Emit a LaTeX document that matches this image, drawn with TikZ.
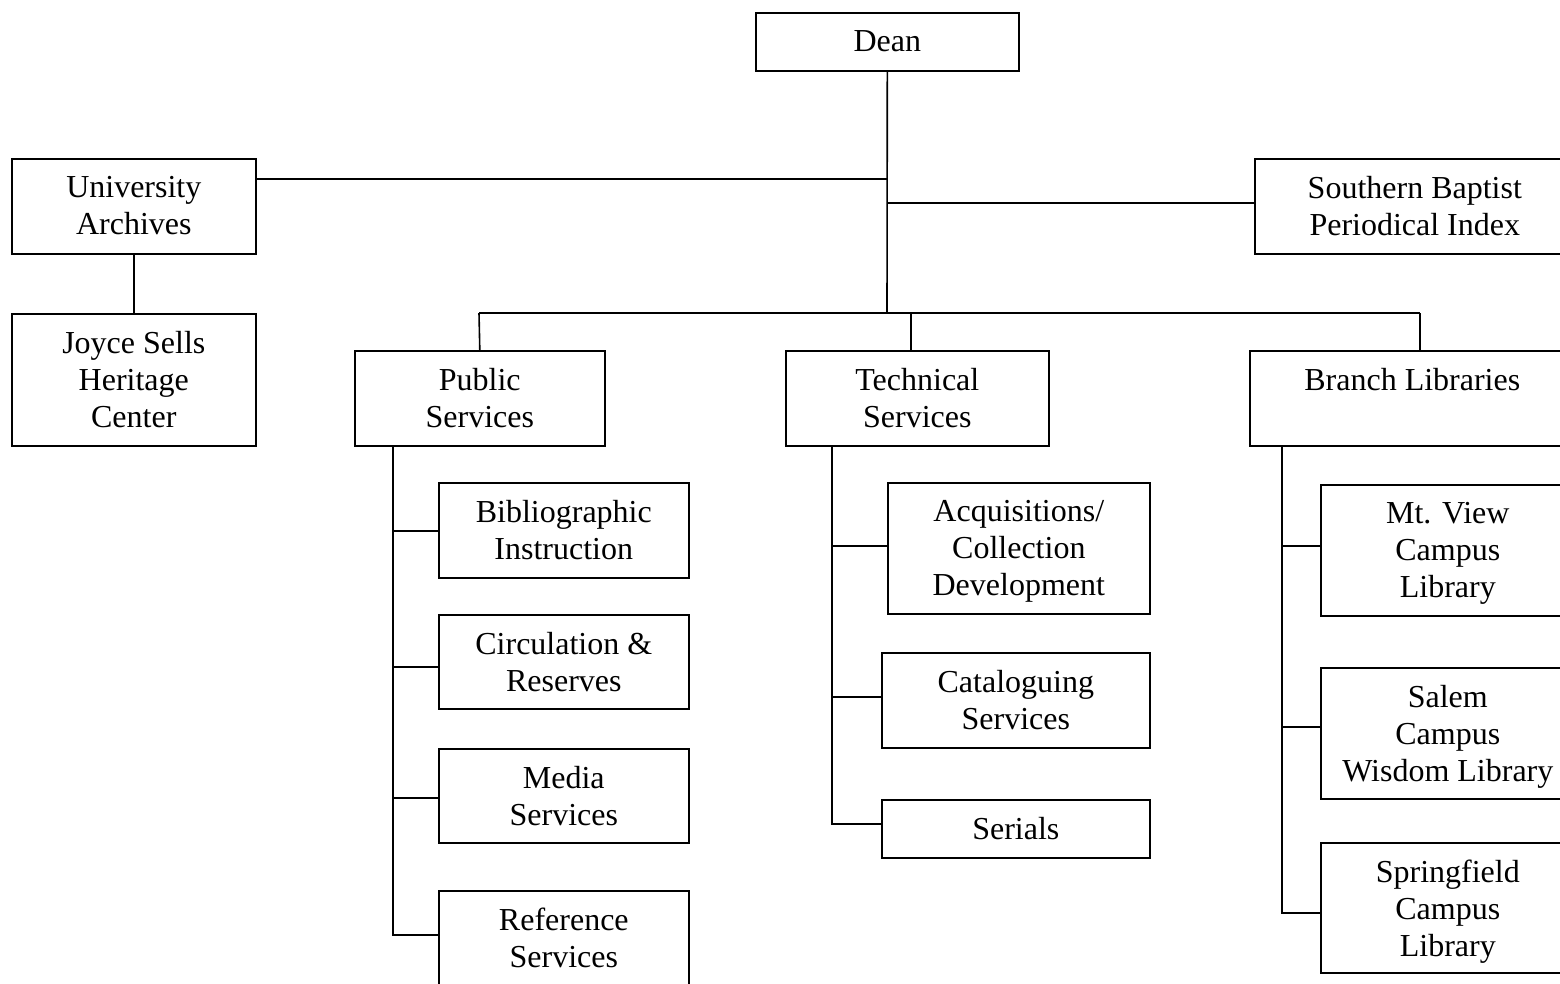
\documentclass[tikz,border=0pt]{standalone}
\usepackage{fontspec}
\setmainfont{Liberation Serif}
\usetikzlibrary{calc}
\tikzset{
  obox/.style={draw=black, line width=1.6pt, rectangle, inner sep=0pt, anchor=north west},
  otext/.style={inner sep=0pt, align=center, anchor=north, font=\fontsize{32}{37}\selectfont},
  conn/.style={draw=black, line width=1.6pt}
}
\newcommand\obx[6]{%
  \node[obox, minimum width=#4pt, minimum height=#5pt] (#1) at (#2,#3) {};
  \node[otext] (#1t) at ($(#1.north)+(0,18)$) {#6};
}
\begin{document}
\begin{tikzpicture}[x=1pt,y=-1pt]
\useasboundingbox (0,0) rectangle (1560,983);
\fill[white] (0,0) rectangle (1560,983);
\obx{dean}{755}{12}{263}{58}{Dean}
\obx{univ}{11}{158}{244}{95}{University\\Archives}
\obx{sbpi}{1254}{158}{320}{95}{Southern Baptist\\Periodical Index}
\obx{joyce}{11}{313}{244}{132}{Joyce Sells\\Heritage\\Center}
\obx{public}{354}{350}{250}{95}{Public\\Services}
\obx{tech}{785}{350}{263}{95}{Technical\\Services}
\obx{branch}{1249}{350}{325}{95}{Branch Libraries}
\obx{bib}{438}{482}{250}{95}{Bibliographic\\Instruction}
\obx{circ}{438}{614}{250}{94}{Circulation \&\\Reserves}
\obx{media}{438}{748}{250}{94}{Media\\Services}
\obx{ref}{438}{890}{250}{94}{Reference\\Services}
\obx{acq}{887}{482}{262}{131}{Acquisitions/\\Collection\\Development}
\obx{cat}{881}{652}{268}{95}{Cataloguing\\Services}
\obx{ser}{881}{799}{268}{58}{Serials}
\obx{mtv}{1320}{484}{254}{131}{Mt. View\\Campus\\Library}
\obx{salem}{1320}{667}{254}{131}{Salem\\Campus\\Wisdom Library}
\obx{spring}{1320}{842}{254}{130}{Springfield\\Campus\\Library}
% top connectors
\coordinate (bus) at (887,313);
\coordinate (jU) at (887,179);
\coordinate (jS) at (887,203);
\coordinate (busL) at (479,313);
\coordinate (busR) at (1420,313);
\coordinate (tdrop) at (911,313);
\draw[conn] (dean.south) -- (bus);
\draw[conn] (univ.east |- jU) -- (jU);
\draw[conn] (jS) -- (sbpi.west |- jS);
\draw[conn] (univ.south) -- (joyce.north);
\draw[conn] (busL) -- (busR);
\draw[conn] (busL) -- (public.north);
\draw[conn] (tdrop) -- (tdrop |- tech.north);
\draw[conn] (busR) -- (busR |- branch.north);
% public services column
\coordinate (pv) at (393,445);
\draw[conn] (pv) -- (393,935) -- (ref.west |- 0,935);
\draw[conn] (393,531) -- (bib.west |- 0,531);
\draw[conn] (393,667) -- (circ.west |- 0,667);
\draw[conn] (393,798) -- (media.west |- 0,798);
% technical services column
\coordinate (tv) at (832,445);
\draw[conn] (tv) -- (832,824) -- (ser.west |- 0,824);
\draw[conn] (832,546) -- (acq.west |- 0,546);
\draw[conn] (832,697) -- (cat.west |- 0,697);
% branch libraries column
\coordinate (bv) at (1282,445);
\draw[conn] (bv) -- (1282,913) -- (spring.west |- 0,913);
\draw[conn] (1282,546) -- (mtv.west |- 0,546);
\draw[conn] (1282,727) -- (salem.west |- 0,727);
\end{tikzpicture}
\end{document}
